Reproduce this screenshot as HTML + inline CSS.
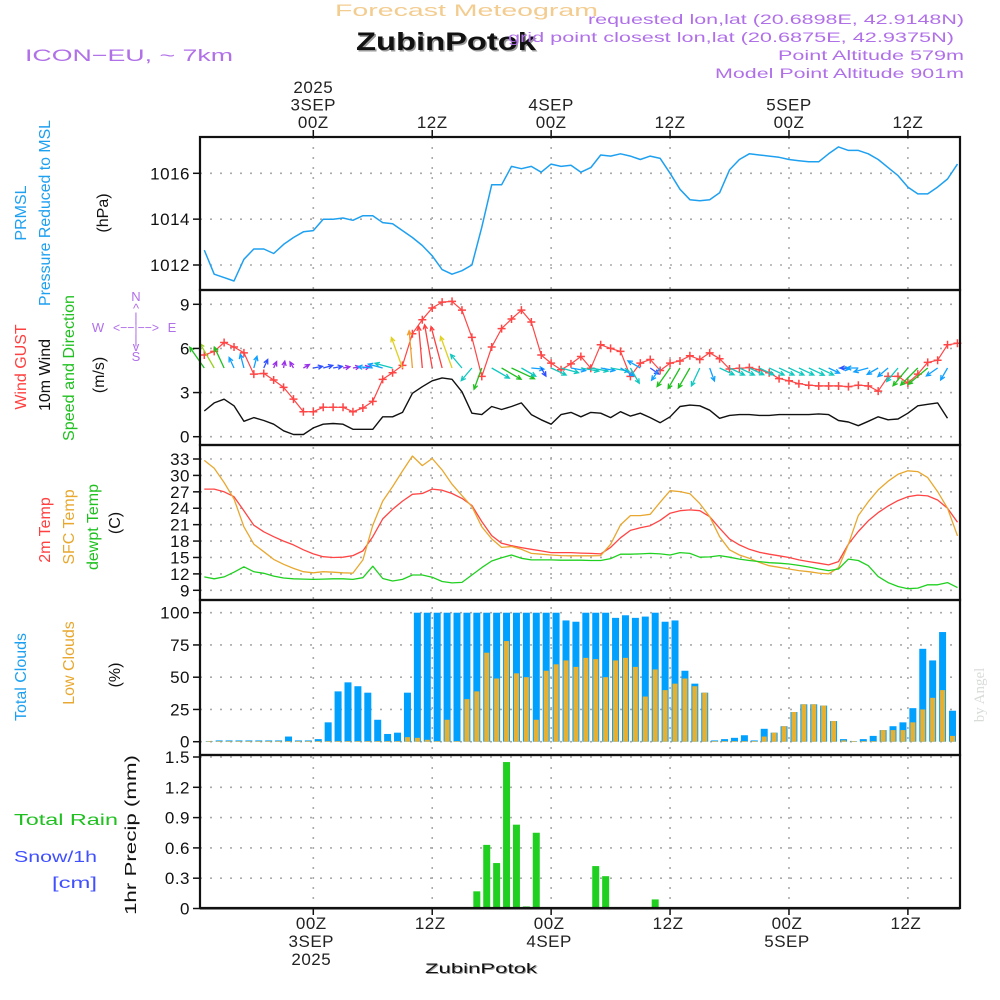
<!DOCTYPE html>
<html><head><meta charset="utf-8"><style>
html,body{margin:0;padding:0;background:#fff;}
svg{display:block;font-family:"Liberation Sans",sans-serif;}
</style></head><body>
<svg id="chart" width="1000" height="1000" viewBox="0 0 1000 1000" xmlns="http://www.w3.org/2000/svg">
<rect x="0" y="0" width="1000" height="1000" fill="#fff"/>
<g id="header">
<text x="335" y="16" font-size="17" fill="#f3cc90" textLength="263" lengthAdjust="spacingAndGlyphs">Forecast Meteogram</text>
<text x="356" y="50" font-size="25" font-weight="bold" fill="#999" textLength="180" lengthAdjust="spacingAndGlyphs" transform="translate(1.5,1.5)">ZubinPotok</text>
<text x="356" y="50" font-size="25" font-weight="bold" fill="#111" textLength="180" lengthAdjust="spacingAndGlyphs">ZubinPotok</text>
<text x="25" y="61" font-size="17" fill="#b070e8" textLength="208" lengthAdjust="spacingAndGlyphs">ICON−EU, ~ 7km</text>
<text x="964" y="24" font-size="14" fill="#b070e8" text-anchor="end" textLength="376" lengthAdjust="spacingAndGlyphs">requested lon,lat (20.6898E, 42.9148N)</text>
<text x="954" y="42" font-size="14" fill="#b070e8" text-anchor="end" textLength="446" lengthAdjust="spacingAndGlyphs">grid point closest lon,lat (20.6875E, 42.9375N)</text>
<text x="964" y="60" font-size="14" fill="#b070e8" text-anchor="end" textLength="186" lengthAdjust="spacingAndGlyphs">Point Altitude 579m</text>
<text x="964" y="78" font-size="14" fill="#b070e8" text-anchor="end" textLength="249" lengthAdjust="spacingAndGlyphs">Model Point Altitude 901m</text>
</g>
<g id="grid"></g>
<g id="marks"></g>
<g id="axes"></g>
<g id="labels" font-size="16">
<text transform="translate(26,213) rotate(-90)" text-anchor="middle" fill="#1ea0f0">PRMSL</text>
<text transform="translate(50,213) rotate(-90)" text-anchor="middle" fill="#1ea0f0" textLength="186" lengthAdjust="spacingAndGlyphs">Pressure Reduced to MSL</text>
<text transform="translate(108,213) rotate(-90)" text-anchor="middle" fill="#111">(hPa)</text>
<text transform="translate(26,367) rotate(-90)" text-anchor="middle" fill="#ff4040">Wind GUST</text>
<text transform="translate(50,375) rotate(-90)" text-anchor="middle" fill="#111">10m Wind</text>
<text transform="translate(74,368) rotate(-90)" text-anchor="middle" fill="#20c020" textLength="146" lengthAdjust="spacingAndGlyphs">Speed and Direction</text>
<text transform="translate(104,375) rotate(-90)" text-anchor="middle" fill="#111">(m/s)</text>
<g fill="#b070e8" font-size="13" text-anchor="middle">
<text x="136" y="301">N</text><text x="136" y="313">^</text><text x="136" y="322">|</text>
<text x="98" y="332">W</text><text x="136" y="332" textLength="46" lengthAdjust="spacingAndGlyphs">&lt;−−|−−&gt;</text><text x="172" y="332">E</text>
<text x="136" y="344">|</text><text x="136" y="351">v</text><text x="136" y="361">S</text>
</g>
<text transform="translate(50,530) rotate(-90)" text-anchor="middle" fill="#ff4040">2m Temp</text>
<text transform="translate(74,527) rotate(-90)" text-anchor="middle" fill="#e8a830">SFC Temp</text>
<text transform="translate(98,527) rotate(-90)" text-anchor="middle" fill="#20c020">dewpt Temp</text>
<text transform="translate(120,523) rotate(-90)" text-anchor="middle" fill="#111">(C)</text>
<text transform="translate(26,677) rotate(-90)" text-anchor="middle" fill="#1ea0f0">Total Clouds</text>
<text transform="translate(74,663) rotate(-90)" text-anchor="middle" fill="#e8a830">Low Clouds</text>
<text transform="translate(120,675) rotate(-90)" text-anchor="middle" fill="#111">(%)</text>
<text x="14" y="825" fill="#20c020" textLength="104" lengthAdjust="spacingAndGlyphs">Total  Rain</text>
<text x="14" y="862" fill="#4050ff" textLength="83" lengthAdjust="spacingAndGlyphs">Snow/1h</text>
<text x="52" y="888" fill="#4050ff" textLength="45" lengthAdjust="spacingAndGlyphs">[cm]</text>
<text transform="translate(136,835) rotate(-90)" text-anchor="middle" fill="#111" textLength="160" lengthAdjust="spacingAndGlyphs">1hr Precip (mm)</text>
<text x="481" y="973" font-size="14" text-anchor="middle" fill="#999" transform="translate(1,1)" textLength="112" lengthAdjust="spacingAndGlyphs">ZubinPotok</text>
<text x="481" y="973" font-size="14" text-anchor="middle" fill="#111" textLength="112" lengthAdjust="spacingAndGlyphs">ZubinPotok</text>
<text transform="translate(984,695) rotate(-90)" text-anchor="middle" fill="#d8dcd8" font-family="Liberation Serif, serif" font-size="15">by Angel</text>
</g>
</svg>
<script>
// time axis: hours relative to 00Z 3 SEP
const hourStart = -11;
const pressure = [1012.65,1011.6,1011.45,1011.3,1012.25,1012.7,1012.7,1012.5,1012.9,1013.2,1013.45,1013.5,1014.0,1014.0,1014.05,1013.95,1014.15,1014.15,1013.85,1013.8,1013.5,1013.2,1012.85,1012.4,1011.8,1011.6,1011.75,1012.0,1013.65,1015.5,1015.5,1016.3,1016.2,1016.3,1016.05,1016.4,1016.3,1016.35,1016.05,1016.25,1016.8,1016.75,1016.85,1016.75,1016.6,1016.75,1016.65,1016.0,1015.3,1014.85,1014.8,1014.85,1015.15,1016.15,1016.6,1016.85,1016.8,1016.75,1016.7,1016.6,1016.55,1016.5,1016.5,1016.85,1017.15,1017.0,1017.0,1016.85,1016.6,1016.25,1015.9,1015.4,1015.1,1015.1,1015.4,1015.75,1016.4];
const gust = [5.55,5.8,6.4,6.1,5.7,4.25,4.3,3.85,3.35,2.55,1.7,1.7,2.0,2.0,2.0,1.7,1.95,2.4,3.9,4.35,4.85,7.0,7.95,8.75,9.15,9.2,8.6,6.75,4.1,6.1,7.35,8.0,8.6,7.8,5.55,5.0,4.55,4.95,5.45,4.65,6.25,6.0,5.8,4.1,5.0,5.25,4.5,5.0,5.15,5.5,5.25,5.7,5.3,4.6,4.65,4.7,4.55,4.35,3.95,3.8,3.6,3.5,3.45,3.45,3.45,3.4,3.5,3.45,3.1,4.1,4.1,3.65,4.25,5.05,5.2,6.25,6.35];
const wind10m = [1.75,2.3,2.55,2.1,1.05,1.3,1.1,0.85,0.4,0.15,0.15,0.6,0.85,0.9,0.85,0.5,0.5,0.5,1.35,1.35,1.65,2.95,3.4,3.8,4.0,3.9,3.05,1.6,1.5,2.05,1.85,2.05,2.3,1.5,1.15,0.85,1.5,1.65,1.35,1.65,1.6,1.3,1.7,1.4,1.6,1.3,0.95,1.35,2.05,2.15,2.1,1.8,1.25,1.45,1.5,1.5,1.45,1.45,1.5,1.5,1.5,1.5,1.55,1.5,1.1,1.0,0.75,1.05,1.35,1.15,1.2,1.6,2.1,2.2,2.3,1.25];
const windDir = [325,330,335,335,345,15,25,25,10,330,60,80,75,80,80,80,80,275,285,285,340,355,355,350,345,340,320,220,200,120,120,115,120,95,150,115,105,100,100,100,100,100,120,150,300,125,215,215,210,210,205,160,115,115,115,115,115,115,115,115,115,115,115,115,95,270,270,255,240,230,220,220,225,230,235,210];
const temp2m = [27.5,27.5,27.0,26.1,23.55,20.9,19.7,18.8,18.0,17.3,16.4,15.65,15.15,15.0,15.05,15.35,16.2,18.8,22.05,23.8,25.3,26.55,26.7,27.5,27.3,26.7,25.8,24.5,21.55,19.0,17.6,17.15,16.8,16.5,16.2,15.9,15.9,15.9,15.8,15.75,15.65,16.85,18.6,19.95,20.45,20.8,21.8,23.1,23.55,23.7,23.55,22.45,20.35,18.4,17.3,16.5,15.95,15.6,15.3,15.0,14.55,14.25,13.95,13.65,14.25,17.45,19.75,21.7,23.2,24.4,25.4,26.1,26.4,26.25,25.5,24.0,21.45];
const sfcTemp = [32.75,31.3,28.7,25.7,20.6,17.45,16.05,14.65,13.75,13.0,12.4,12.2,12.4,12.3,12.2,12.15,14.55,20.9,25.3,27.95,30.8,33.55,31.8,33.1,31.0,28.4,26.3,24.3,20.6,18.4,16.85,17.0,16.5,15.75,15.6,15.45,15.35,15.3,15.3,15.3,15.35,17.4,20.95,22.65,22.65,22.9,25.1,27.2,27.05,26.65,24.85,22.45,18.8,16.4,15.45,14.85,14.1,13.5,13.2,12.9,12.6,12.4,12.15,12.0,13.15,17.4,22.65,25.2,27.35,28.95,30.2,30.85,30.7,29.6,27.05,24.0,18.95];
const dewpt = [11.45,11.1,11.45,12.3,13.3,12.4,12.1,11.6,11.25,11.1,11.05,11.0,11.05,11.1,11.1,11.0,11.3,13.4,11.15,10.7,11.0,11.8,11.8,11.4,10.6,10.35,10.45,11.8,13.15,14.35,14.95,15.45,14.85,14.55,14.55,14.55,14.5,14.5,14.5,14.45,14.45,14.8,15.6,15.6,15.65,15.75,15.65,15.45,15.9,15.75,15.05,15.1,15.35,15.05,14.7,14.45,14.25,14.05,13.95,13.8,13.55,13.25,12.9,12.6,12.9,14.7,14.45,13.5,11.5,10.4,9.7,9.3,9.4,10.0,10.0,10.4,9.5];
// hourly bars, first bar centred at hour -10.5
const barStart = -10.5;
const totalClouds = [0.5,1,1,1,1,1,1,1,4,1,1,2,15,39,46,43,38,17,6,7,38,100,100,100,100,100,100,100,100,100,100,100,100,100,100,100,94,93,100,100,100,96,98,96,97,100,93,94,55,45,38,1,2,3,5,1,10,7,12,23,29,29,28,16,2,0.5,2,4.5,9,12,15,26,72,63,85,24];
const lowClouds = [0.5,0.5,0.5,0.5,0.5,0.5,0.5,0.5,0.5,0.5,0.5,0.5,0.5,0.5,0.5,0.5,0.5,0.5,0.5,0.5,3.5,3,1.5,0.5,17,0.5,33,39,69,49,78,53,50,17,55,60,63,58,65,64,50,63,65,58,35,56,40,45,49,43,38,0.5,0.5,0.5,0.5,0.5,4,7,12,23,29,29,28,16,1,0.5,0.5,0.5,9,9,9,15,25,34,40,4.5];
const precip = [0,0,0,0,0,0,0,0,0,0,0,0,0,0,0,0,0,0,0,0,0,0,0,0,0,0,0,0.17,0.63,0.45,1.45,0.83,0.02,0.75,0,0,0,0,0,0.42,0.32,0,0,0,0,0.09,0,0,0,0,0,0,0,0,0,0,0,0,0,0,0,0,0,0,0,0,0,0,0,0,0,0,0,0,0,0];
const pressureTicks = [1012,1014,1016];
const windTicks = [0,3,6,9];
const tempTicks = [9,12,15,18,21,24,27,30,33];
const cloudTicks = [0,25,50,75,100];
const precipTicks = ['0','0.3','0.6','0.9','1.2','1.5'];
const timeTicks = [0,12,24,36,48,60];
const topLabels = [['2025','3SEP','00Z'],['','','12Z'],['','4SEP','00Z'],['','','12Z'],['','5SEP','00Z'],['','','12Z']];
const bottomLabels = [['00Z','3SEP','2025'],['12Z','',''],['00Z','4SEP',''],['12Z','',''],['00Z','5SEP',''],['12Z','','']];

const NS='http://www.w3.org/2000/svg';
const X0=200,X1=960;
function xh(h){return 313.3+h*9.91;}
function lin(v0,y0,v1,y1){return v=>y0+(v-v0)*(y1-y0)/(v1-v0);}
const yP=lin(1016,173.3,1012,265);
const yW=lin(0,436.7,9,304.3);
const yT=lin(9,590.3,33,459);
const yC=lin(0,741.7,100,612.7);
const yR=lin(0,908.5,1.5,757);
const panels=[[137,290],[290,445],[445,600],[600,755],[755,908]];
function el(tag,attrs,parent){const e=document.createElementNS(NS,tag);for(const k in attrs)e.setAttribute(k,attrs[k]);parent.appendChild(e);return e;}
const gGrid=document.getElementById('grid'),gMarks=document.getElementById('marks'),gAxes=document.getElementById('axes');

function hline(y,name){const l=el('line',{x1:X0,x2:X1,y1:y,y2:y,stroke:'#aaa','stroke-width':1.6,'stroke-dasharray':'2 8'},gGrid);

}
function ytick(y,label,name){const t=el('line',{x1:X0-7,x2:X0,y1:y,y2:y,stroke:'#111','stroke-width':1.5},gAxes);


const tx=el('text',{x:X0-10,y:y+6,'text-anchor':'end','font-size':17,fill:'#111','letter-spacing':'0.5'},gAxes);tx.textContent=label;

}
pressureTicks.forEach(v=>{hline(yP(v),'pressure-gridline');ytick(yP(v),String(v),'pressure');});
windTicks.forEach(v=>{hline(yW(v),'wind-gridline');ytick(yW(v),String(v),'wind');});
tempTicks.forEach(v=>{hline(yT(v),'temp-gridline');ytick(yT(v),String(v),'temp');});
cloudTicks.forEach(v=>{hline(yC(v),'cloud-gridline');ytick(yC(v),String(v),'cloud');});
precipTicks.forEach(v=>{hline(yR(+v),'precip-gridline');ytick(yR(+v),v,'precip');});
timeTicks.forEach((h,i)=>{const x=xh(h);
const v=el('line',{x1:x,x2:x,y1:137,y2:908,stroke:'#aaa','stroke-width':1.6,'stroke-dasharray':'2 8'},gGrid);


el('line',{x1:x,x2:x,y1:130,y2:137,stroke:'#111','stroke-width':1.5},gAxes);
el('line',{x1:x,x2:x,y1:908,y2:915,stroke:'#111','stroke-width':1.5},gAxes);
topLabels[i].forEach((s,j)=>{if(!s)return;const t=el('text',{x:x,y:93+j*17.5,'text-anchor':'middle','font-size':17,fill:'#222','letter-spacing':'0.5'},gAxes);t.textContent=s;

});
bottomLabels[i].forEach((s,j)=>{if(!s)return;const t=el('text',{x:x-2,y:929+j*18,'text-anchor':'middle','font-size':17,fill:'#222','letter-spacing':'0.5'},gAxes);t.textContent=s;

});
});
panels.forEach(p=>{const r=el('rect',{x:X0,y:p[0],width:X1-X0,height:p[1]-p[0],fill:'none',stroke:'#111','stroke-width':2.2},gAxes);

});

function series(arr,yf,color,name,w){const pts=arr.map((v,i)=>xh(hourStart+i).toFixed(1)+','+yf(v).toFixed(1)).join(' ');
const p=el('polyline',{points:pts,fill:'none',stroke:color,'stroke-width':w||1.4,'stroke-linejoin':'round'},gMarks);

return p;}
series(pressure,yP,'#1ea0f0','pressure-line',1.5);
series(wind10m,yW,'#111','wind-10m-line',1.4);
series(gust,yW,'#ff4545','wind-gust-line',1.2);
gust.forEach((v,i)=>{const x=xh(hourStart+i),y=yW(v);
const m=el('path',{d:`M${x-4},${y}H${x+4}M${x},${y-4}V${y+4}`,stroke:'#ff4545','stroke-width':1.5},gMarks);

});
function wcol(s){if(s<0.7)return'#9a30e8';if(s<1.0)return'#3050ff';if(s<1.45)return'#10a0ff';if(s<1.9)return'#10c8c0';if(s<2.35)return'#20c020';if(s<2.75)return'#98d020';if(s<3.2)return'#e0d020';if(s<3.6)return'#f0a030';return'#ff4040';}
windDir.forEach((d,i)=>{const s=wind10m[Math.min(i+1,wind10m.length-1)];const x=xh(hourStart+i),y=368;
const L=Math.max(7,s*11),a=d*Math.PI/180;const ex=x+L*Math.sin(a),ey=y-L*Math.cos(a);
const ha=5,b1=a+Math.PI-0.45,b2=a+Math.PI+0.45;const c=wcol(s);
const p=el('path',{d:`M${x},${y}L${ex},${ey}M${ex+ha*Math.sin(b1)},${ey-ha*Math.cos(b1)}L${ex},${ey}L${ex+ha*Math.sin(b2)},${ey-ha*Math.cos(b2)}`,stroke:c,'stroke-width':1.3,fill:'none'},gMarks);

});
series(temp2m,yT,'#ff4545','temp-2m-line',1.3);
series(sfcTemp,yT,'#e8a830','sfc-temp-line',1.3);
series(dewpt,yT,'#20d020','dewpt-line',1.3);
totalClouds.forEach((v,i)=>{const x=xh(barStart+i);if(x>X1)return;const y=yC(v);
const r=el('rect',{x:x-3.5,y:y,width:Math.min(7,X1-(x-3.5)),height:yC(0)-y,fill:'#00a0ff'},gMarks);

});
lowClouds.forEach((v,i)=>{const x=xh(barStart+i);if(x>X1)return;const y=yC(v);
const r=el('rect',{x:x-2.5,y:y,width:Math.min(5,X1-(x-2.5)),height:yC(0)-y,fill:'#e8b030'},gMarks);

});
precip.forEach((v,i)=>{if(v<=0)return;const x=xh(barStart+i);const y=yR(v);
const r=el('rect',{x:x-3.5,y:y,width:7,height:yR(0)-y,fill:'#20d020'},gMarks);

});
el('line',{x1:X0,x2:X1,y1:yR(0),y2:yR(0),stroke:'#111','stroke-width':2},gAxes);
</script>
</body></html>
